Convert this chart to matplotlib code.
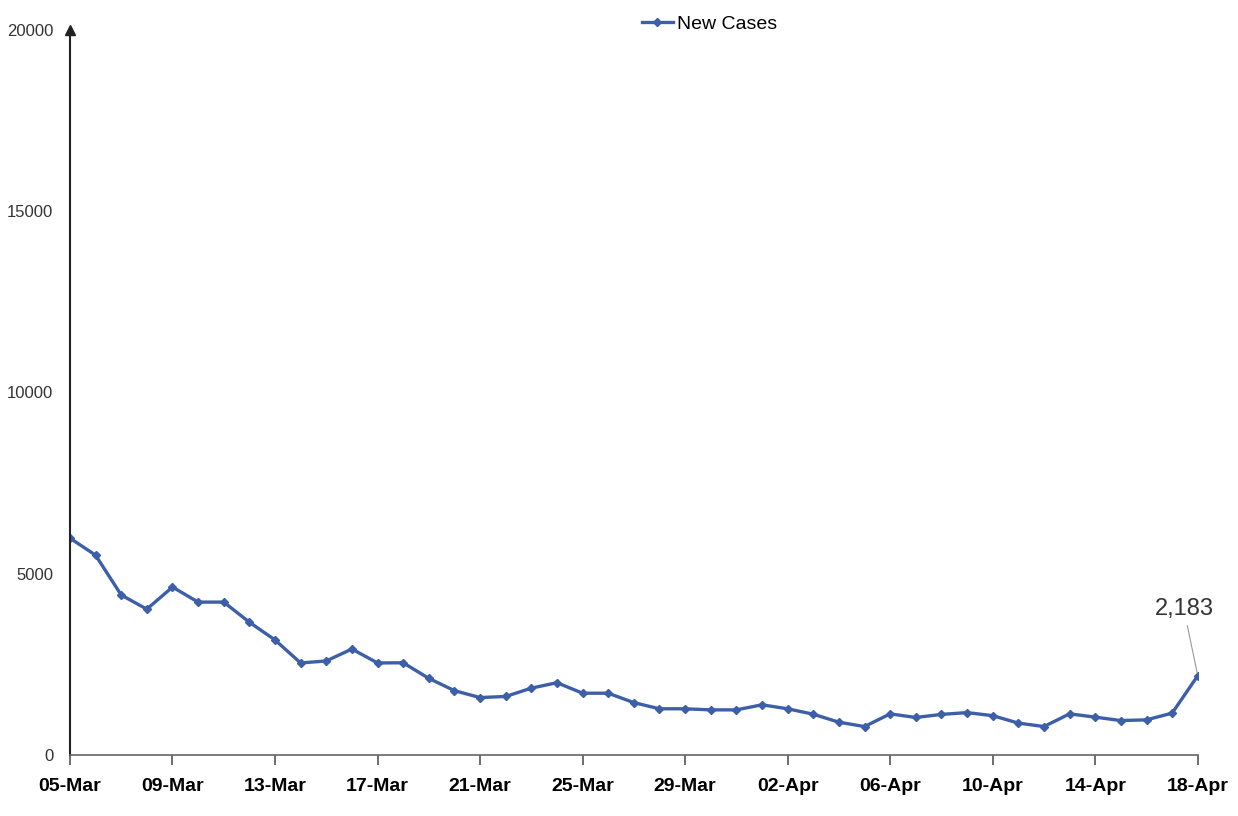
import numpy as np
import pandas as pd
import matplotlib
matplotlib.use('Agg')
import matplotlib.pyplot as plt
import matplotlib.dates as mdates

plt.rcParams['font.family'] = ['Liberation Sans Narrow', 'Liberation Sans', 'DejaVu Sans']

# daily new cases, 05-Mar .. 18-Apr
dates = pd.date_range('2021-03-05', '2021-04-18', freq='D')
new_cases = [5980, 5510, 4410, 4020, 4630, 4215, 4215, 3660, 3170, 2535,
             2590, 2920, 2535, 2540, 2110, 1770, 1580, 1610, 1840, 1990,
             1700, 1700, 1440, 1270, 1270, 1240, 1240, 1380, 1270, 1120,
             900, 780, 1130, 1030, 1115, 1165, 1080, 875, 780, 1130,
             1040, 945, 965, 1150, 2183]
y_ticks = [0, 5000, 10000, 15000, 20000]
series_name = 'New Cases'
last_label = '2,183'

line_color = '#3d5fa8'

fig = plt.figure(figsize=(12.38, 8.16), dpi=100)
ax = fig.add_axes([0.0565, 0.075, 0.911, 0.888])

ax.plot(dates, new_cases, color=line_color, lw=2.4, marker='D', ms=4,
        mec=line_color, mfc=line_color, label=series_name)

ax.set_xlim(dates[0], dates[-1])
ax.set_ylim(0, 20000)
ax.set_yticks(y_ticks)
ax.set_yticklabels([str(v) for v in y_ticks], fontsize=12, color='#333333')
ax.tick_params(axis='y', length=0, pad=12)

ax.set_xticks(dates[::4])
ax.xaxis.set_major_formatter(mdates.DateFormatter('%d-%b'))
ax.tick_params(axis='x', length=7, width=1.2, color='#555555', pad=10, labelsize=14)
for lbl in ax.get_xticklabels():
    lbl.set_fontweight('bold')

for s in ['top', 'right']:
    ax.spines[s].set_visible(False)
ax.spines['left'].set_linewidth(1.5)
ax.spines['left'].set_color('#222222')
ax.spines['bottom'].set_linewidth(1.2)
ax.spines['bottom'].set_color('#666666')

# arrow head on the y axis
ax.plot(0, 1, '^', color='#222222', ms=7, transform=ax.transAxes, clip_on=False)

# label for the latest value
ax.annotate(last_label, xy=(dates[-1], new_cases[-1]), xytext=(-10, 40),
            textcoords='offset points', ha='center', va='bottom', fontsize=17,
            color='#333333',
            arrowprops=dict(arrowstyle='-', color='#999999', lw=0.8))

ax.legend(loc='upper center', bbox_to_anchor=(0.567, 1.045), frameon=False,
          fontsize=14, handlelength=1.6, handletextpad=0.2)

fig.savefig('out.png', dpi=100, facecolor='white')
